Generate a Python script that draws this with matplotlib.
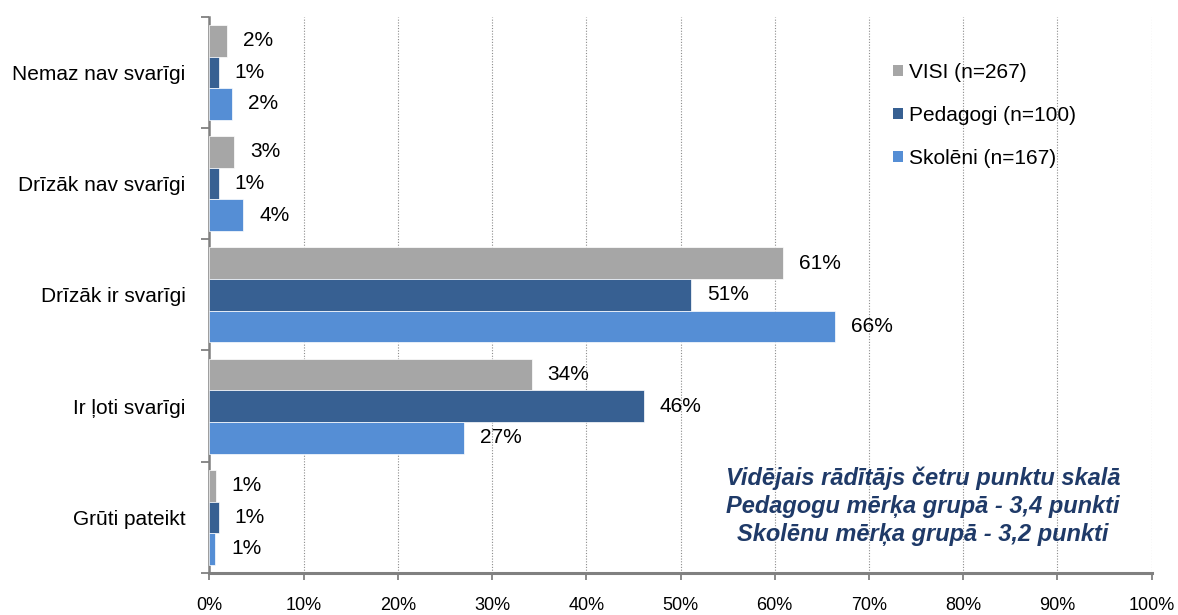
import matplotlib
matplotlib.use("Agg")
import matplotlib.pyplot as plt
import numpy as np
from matplotlib.patches import Patch

categories = ["Nemaz nav svarīgi", "Drīzāk nav svarīgi", "Drīzāk ir svarīgi", "Ir ļoti svarīgi", "Grūti pateikt"]
series_names = ["VISI (n=267)", "Pedagogi (n=100)", "Skolēni (n=167)"]
visi = [1.9, 2.6, 60.9, 34.2, 0.7]
pedagogi = [1.0, 1.0, 51.1, 46.1, 1.0]
skoleni = [2.4, 3.6, 66.4, 27.0, 0.6]
colors = ["#A6A6A6", "#376092", "#558ED5"]
xticks = list(range(0, 101, 10))
note_lines = ["Vidējais rādītājs četru punktu skalā",
              "Pedagogu mērķa grupā - 3,4 punkti",
              "Skolēnu mērķa grupā - 3,2 punkti"]

plt.rcParams['font.family'] = ['Liberation Sans', 'DejaVu Sans']

W, H = 1178, 615
x0, x1 = 209.3, 1151.7
y0, y1 = 16.7, 573.0
fig = plt.figure(figsize=(W / 100, H / 100), dpi=100)
ax = fig.add_axes([x0 / W, 1 - y1 / H, (x1 - x0) / W, (y1 - y0) / H])

h = 0.284
y = np.arange(len(categories))
for i, (vals, col) in enumerate(zip([visi, pedagogi, skoleni], colors)):
    pos = y + (i - 1) * h
    ax.barh(pos, vals, height=h, color=col, edgecolor="white", linewidth=0.5, zorder=3)
    for p, v in zip(pos, vals):
        ax.annotate(f"{round(v):.0f}%", xy=(v, p), xytext=(11.5, 0), textcoords="offset points",
                    va="center", ha="left", fontsize=15, color="black", zorder=4)

ax.set_xlim(0, 100)
ax.set_ylim(len(categories) - 0.5, -0.5)
ax.set_xticks(xticks)
ax.set_xticklabels([f"{t}%" for t in xticks], fontsize=13)
ax.set_yticks(y)
ax.set_yticklabels(categories, fontsize=15)
ax.tick_params(axis="y", which="major", length=0, pad=17)
ax.set_yticks(np.arange(-0.5, len(categories), 1.0), minor=True)
ax.tick_params(axis="y", which="minor", length=6, color="#808080", width=1.3)
ax.tick_params(axis="x", length=5, color="#808080", width=1.3, pad=12)

for t in xticks[1:]:
    ax.axvline(t, color="#8C8C8C", linestyle=(0, (1, 1.5)), linewidth=0.8, zorder=1)

for s in ["top", "right"]:
    ax.spines[s].set_visible(False)
ax.spines["left"].set_color("#808080")
ax.spines["left"].set_linewidth(1.8)
ax.spines["bottom"].set_color("#808080")
ax.spines["bottom"].set_linewidth(2.2)

handles = [Patch(facecolor=c, edgecolor="none") for c in colors]
ax.legend(handles, series_names, loc="upper left",
          bbox_to_anchor=((893 - x0) / (x1 - x0), 1 - (63 - y0) / (y1 - y0)),
          frameon=False, fontsize=15, handlelength=0.48, handleheight=0.48, handletextpad=0.3,
          labelspacing=1.15, borderaxespad=0, borderpad=0)

cat_px = (y1 - y0) / len(categories)
for k, line in enumerate(note_lines):
    py = 478 + 28.5 * k
    ax.text((923 - x0) / (x1 - x0) * 100, (py - y0) / cat_px - 0.5,
            line, ha="center", va="center", fontsize=17, fontweight="bold", fontstyle="italic",
            color="#1F3A68", zorder=5)

fig.savefig("out.png", dpi=100)
